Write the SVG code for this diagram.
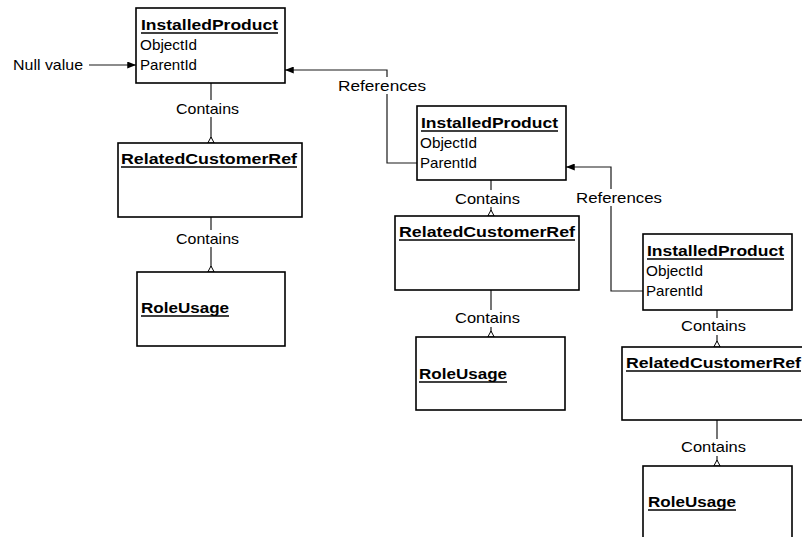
<svg xmlns="http://www.w3.org/2000/svg" width="802" height="537" viewBox="0 0 802 537">
  <style>
    .box { fill: #ffffff; stroke: #000000; stroke-width: 1.6; }
    .wire { fill: none; stroke: #1a1a1a; stroke-width: 1.2; }
    .ul { stroke: #000000; stroke-width: 1.3; }
    .t { font-family: "Liberation Sans", Arial, sans-serif; font-size: 15px; fill: #000000; }
    .b { font-family: "Liberation Sans", Arial, sans-serif; font-size: 15px; font-weight: bold; fill: #000000; }
    .lbl-bg { fill: #ffffff; }
  </style>
  <defs>
    <!-- filled arrowhead for reference links -->
    <marker id="arrow" viewBox="0 0 10 8" refX="10" refY="4" markerWidth="9" markerHeight="7" markerUnits="userSpaceOnUse" orient="auto">
      <path d="M0,0 L10,4 L0,8 z" fill="#000000"/>
    </marker>
    <!-- small open triangle marking the contained end -->
    <path id="agg" d="M-3.2,0 L0,-6 L3.2,0 z" fill="#ffffff" stroke="#000000" stroke-width="1"/>
  </defs>

  <!-- connectors -->
  <g id="connectors">
    <!-- null input -->
    <line class="wire" x1="89" y1="65" x2="136" y2="65" marker-end="url(#arrow)"/>
    <!-- References: product 2 -> product 1 -->
    <polyline class="wire" points="417,163 387,163 387,70 285,70" marker-end="url(#arrow)"/>
    <!-- References: product 3 -> product 2 -->
    <polyline class="wire" points="643,291 611,291 611,167 566,167" marker-end="url(#arrow)"/>
    <!-- Contains links, column 1 -->
    <line class="wire" x1="211" y1="83" x2="211" y2="143"/>
    <line class="wire" x1="211" y1="217" x2="211" y2="272"/>
    <!-- Contains links, column 2 -->
    <line class="wire" x1="491" y1="180" x2="491" y2="216"/>
    <line class="wire" x1="491" y1="290" x2="491" y2="337"/>
    <!-- Contains links, column 3 -->
    <line class="wire" x1="717" y1="310" x2="717" y2="347"/>
    <line class="wire" x1="717" y1="420" x2="717" y2="466"/>

    <use href="#agg" x="211" y="143"/>
    <use href="#agg" x="211" y="272"/>
    <use href="#agg" x="491" y="216"/>
    <use href="#agg" x="491" y="337"/>
    <use href="#agg" x="717" y="347"/>
    <use href="#agg" x="717" y="466"/>

    <!-- labels -->
    <text class="t" x="13" y="70" textLength="70" lengthAdjust="spacingAndGlyphs">Null value</text>

    <rect class="lbl-bg" x="336" y="77" width="92" height="17"/>
    <text class="t" x="338" y="91" textLength="88" lengthAdjust="spacingAndGlyphs">References</text>
    <rect class="lbl-bg" x="574" y="189" width="90" height="17"/>
    <text class="t" x="576" y="203" textLength="86" lengthAdjust="spacingAndGlyphs">References</text>

    <rect class="lbl-bg" x="174" y="100" width="67" height="17"/>
    <text class="t" x="176" y="114" textLength="63" lengthAdjust="spacingAndGlyphs">Contains</text>
    <rect class="lbl-bg" x="174" y="230" width="67" height="17"/>
    <text class="t" x="176" y="244" textLength="63" lengthAdjust="spacingAndGlyphs">Contains</text>

    <rect class="lbl-bg" x="453" y="190" width="69" height="17"/>
    <text class="t" x="455" y="204" textLength="65" lengthAdjust="spacingAndGlyphs">Contains</text>
    <rect class="lbl-bg" x="453" y="310" width="69" height="17"/>
    <text class="t" x="455" y="323" textLength="65" lengthAdjust="spacingAndGlyphs">Contains</text>

    <rect class="lbl-bg" x="679" y="318" width="69" height="17"/>
    <text class="t" x="681" y="331" textLength="65" lengthAdjust="spacingAndGlyphs">Contains</text>
    <rect class="lbl-bg" x="679" y="439" width="69" height="17"/>
    <text class="t" x="681" y="452" textLength="65" lengthAdjust="spacingAndGlyphs">Contains</text>
  </g>

  <!-- column 1 -->
  <g id="installed-product-1">
    <rect class="box" x="136" y="8" width="149" height="75"/>
    <text class="b" x="141" y="30" textLength="137" lengthAdjust="spacingAndGlyphs">InstalledProduct</text>
    <line class="ul" x1="141" y1="33" x2="278" y2="33"/>
    <text class="t" x="140" y="50" textLength="57" lengthAdjust="spacingAndGlyphs">ObjectId</text>
    <text class="t" x="140" y="70" textLength="57" lengthAdjust="spacingAndGlyphs">ParentId</text>
  </g>
  <g id="related-customer-ref-1">
    <rect class="box" x="118" y="143" width="184" height="74"/>
    <text class="b" x="121" y="164" textLength="176" lengthAdjust="spacingAndGlyphs">RelatedCustomerRef</text>
    <line class="ul" x1="121" y1="167" x2="297" y2="167"/>
  </g>
  <g id="role-usage-1">
    <rect class="box" x="137" y="272" width="148" height="74"/>
    <text class="b" x="141" y="313" textLength="88" lengthAdjust="spacingAndGlyphs">RoleUsage</text>
    <line class="ul" x1="141" y1="316" x2="229" y2="316"/>
  </g>

  <!-- column 2 -->
  <g id="installed-product-2">
    <rect class="box" x="417" y="106" width="149" height="74"/>
    <text class="b" x="421" y="128" textLength="137" lengthAdjust="spacingAndGlyphs">InstalledProduct</text>
    <line class="ul" x1="421" y1="131" x2="558" y2="131"/>
    <text class="t" x="420" y="148" textLength="57" lengthAdjust="spacingAndGlyphs">ObjectId</text>
    <text class="t" x="420" y="168" textLength="57" lengthAdjust="spacingAndGlyphs">ParentId</text>
  </g>
  <g id="related-customer-ref-2">
    <rect class="box" x="395" y="216" width="184" height="74"/>
    <text class="b" x="399" y="237" textLength="176" lengthAdjust="spacingAndGlyphs">RelatedCustomerRef</text>
    <line class="ul" x1="399" y1="240" x2="575" y2="240"/>
  </g>
  <g id="role-usage-2">
    <rect class="box" x="416" y="337" width="149" height="73"/>
    <text class="b" x="419" y="379" textLength="88" lengthAdjust="spacingAndGlyphs">RoleUsage</text>
    <line class="ul" x1="419" y1="382" x2="507" y2="382"/>
  </g>

  <!-- column 3 -->
  <g id="installed-product-3">
    <rect class="box" x="643" y="234" width="149" height="76"/>
    <text class="b" x="647" y="256" textLength="137" lengthAdjust="spacingAndGlyphs">InstalledProduct</text>
    <line class="ul" x1="647" y1="259" x2="784" y2="259"/>
    <text class="t" x="646" y="276" textLength="57" lengthAdjust="spacingAndGlyphs">ObjectId</text>
    <text class="t" x="646" y="296" textLength="57" lengthAdjust="spacingAndGlyphs">ParentId</text>
  </g>
  <g id="related-customer-ref-3">
    <rect class="box" x="622" y="347" width="186" height="73"/>
    <text class="b" x="626" y="368" textLength="175" lengthAdjust="spacingAndGlyphs">RelatedCustomerRef</text>
    <line class="ul" x1="626" y1="371" x2="801" y2="371"/>
  </g>
  <g id="role-usage-3">
    <rect class="box" x="643" y="466" width="149" height="75"/>
    <text class="b" x="648" y="507" textLength="88" lengthAdjust="spacingAndGlyphs">RoleUsage</text>
    <line class="ul" x1="648" y1="510" x2="736" y2="510"/>
  </g>
</svg>
